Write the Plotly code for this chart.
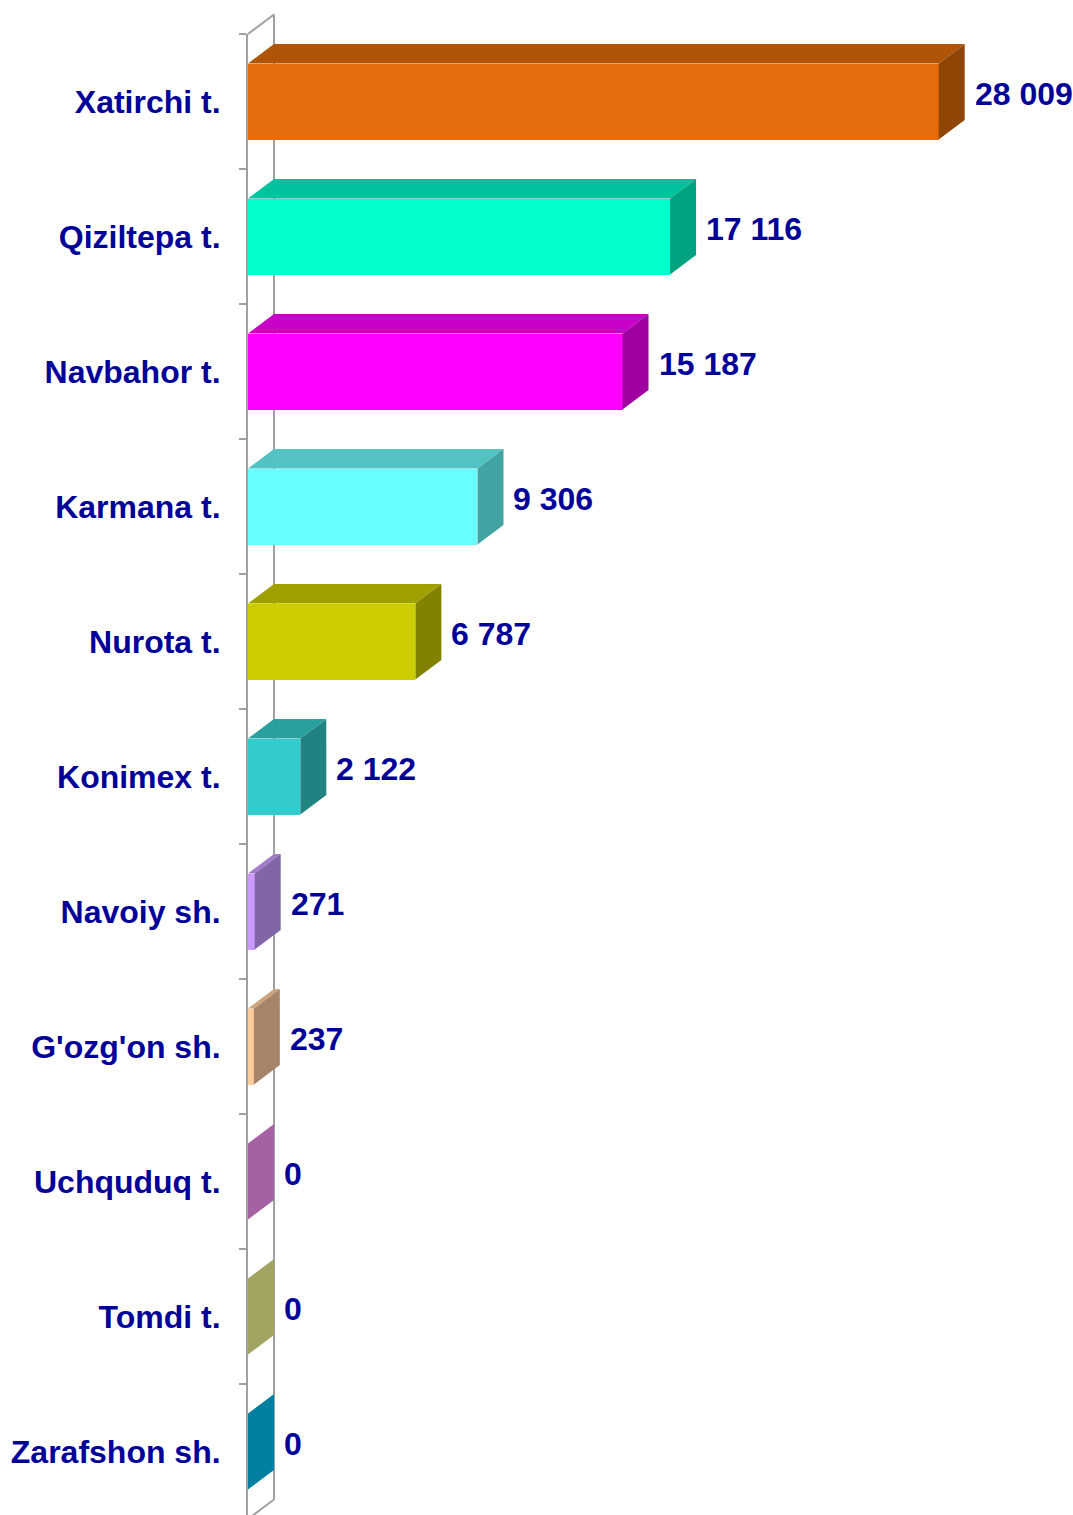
import plotly.graph_objects as go

categories = ["Xatirchi t.", "Qiziltepa t.", "Navbahor t.", "Karmana t.", "Nurota t.",
              "Konimex t.", "Navoiy sh.", "G'ozg'on sh.", "Uchquduq t.", "Tomdi t.", "Zarafshon sh."]
values = [28009, 17116, 15187, 9306, 6787, 2122, 271, 237, 0, 0, 0]

front_colors = ["#E46C0A", "#00FFCC", "#FF00FF", "#66FFFF", "#CCCC00", "#33CCCC",
                "#CC99FF", "#FFCC99", "#CC7ACC", "#CCCC7A", "#00A0C8"]
top_colors = ["#B05508", "#00C29C", "#C800C8", "#52C2C2", "#A09F00", "#28A0A0",
              "#A37ACC", "#CCA37A", "#B06AB0", "#B3B36A", "#0090B4"]
side_colors = ["#8E4506", "#00A27F", "#A000A0", "#42A3A3", "#828200", "#208282",
               "#8066A6", "#A6846A", "#A462A4", "#A3A362", "#0080A0"]

W, H = 1073, 1515
ML, MT = 248, 34
PLOT_W = W - ML
PLOT_H = H - MT
PX_PER_UNIT = 0.02466
STEP_PX = 135.0
X_MAX = PLOT_W / PX_PER_UNIT
Y_TOP = -0.5
Y_BOT = Y_TOP + PLOT_H / STEP_PX

DEPTH_X = 26 / PX_PER_UNIT       # depth in data units
DEPTH_Y = 19.5 / STEP_PX         # depth in category units
BAR_W = 76 / STEP_PX

idx = list(range(len(categories)))

fig = go.Figure()

# front faces
fig.add_trace(go.Bar(
    x=values, y=idx, orientation="h", width=BAR_W,
    marker=dict(color=front_colors, line=dict(width=0)),
    hoverinfo="skip", showlegend=False,
))

# top and side faces
for i, v in enumerate(values):
    top = i - BAR_W / 2
    bot = i + BAR_W / 2
    if v > 0:
        fig.add_trace(go.Scatter(
            x=[0, v, v + DEPTH_X, DEPTH_X, 0],
            y=[top, top, top - DEPTH_Y, top - DEPTH_Y, top],
            fill="toself", fillcolor=top_colors[i], mode="lines",
            line=dict(width=0, color=top_colors[i]),
            hoverinfo="skip", showlegend=False,
        ))
    fig.add_trace(go.Scatter(
        x=[v, v + DEPTH_X, v + DEPTH_X, v, v],
        y=[top, top - DEPTH_Y, bot - DEPTH_Y, bot, top],
        fill="toself", fillcolor=side_colors[i], mode="lines",
        line=dict(width=0, color=side_colors[i]),
        hoverinfo="skip", showlegend=False,
    ))


def px(xv):
    return xv / X_MAX


def py(yv):
    return 1 - (yv - Y_TOP) / (Y_BOT - Y_TOP)


wall = "#A0A0A0"
b_top = -0.5
b_bot = len(categories) - 0.5
shapes = [
    dict(type="line", xref="paper", yref="paper", layer="below",
         x0=px(DEPTH_X), y0=py(b_top - DEPTH_Y), x1=px(DEPTH_X), y1=py(b_bot - DEPTH_Y),
         line=dict(color=wall, width=2)),
    dict(type="line", xref="paper", yref="paper", layer="below",
         x0=px(0), y0=py(b_top), x1=px(DEPTH_X), y1=py(b_top - DEPTH_Y),
         line=dict(color=wall, width=2)),
    dict(type="line", xref="paper", yref="paper", layer="below",
         x0=px(0), y0=py(b_bot), x1=px(DEPTH_X), y1=py(b_bot - DEPTH_Y),
         line=dict(color=wall, width=2)),
]

label_font = dict(family="Liberation Sans, Arial, sans-serif", size=32, color="#000099", weight="bold")

annotations = []
for i, v in enumerate(values):
    annotations.append(dict(
        x=v + DEPTH_X, y=i - 0.055, xref="x", yref="y",
        text=f"{v:,}".replace(",", " "), showarrow=False,
        xanchor="left", yanchor="middle", xshift=8, font=label_font,
    ))

fig.update_layout(
    width=W, height=H,
    margin=dict(l=ML, r=0, t=MT, b=0, pad=0),
    plot_bgcolor="white", paper_bgcolor="white",
    shapes=shapes, annotations=annotations,
    showlegend=False, bargap=0,
    xaxis=dict(range=[0, X_MAX], visible=False, fixedrange=True),
    yaxis=dict(
        range=[Y_BOT, Y_TOP], tickmode="array", tickvals=idx, ticktext=categories,
        ticks="", showgrid=False, zeroline=False, fixedrange=True,
        showline=True, linecolor=wall, linewidth=2,
        ticklabelstandoff=19, tickfont=label_font,
        minor=dict(tickmode="array", tickvals=[k - 0.5 for k in range(len(categories) + 1)],
                   ticks="outside", ticklen=7, tickwidth=2, tickcolor=wall, showgrid=False),
    ),
)

fig.write_html("out.html", config={"displayModeBar": False},
               post_script="document.body.style.margin='0';document.body.style.padding='0';")
